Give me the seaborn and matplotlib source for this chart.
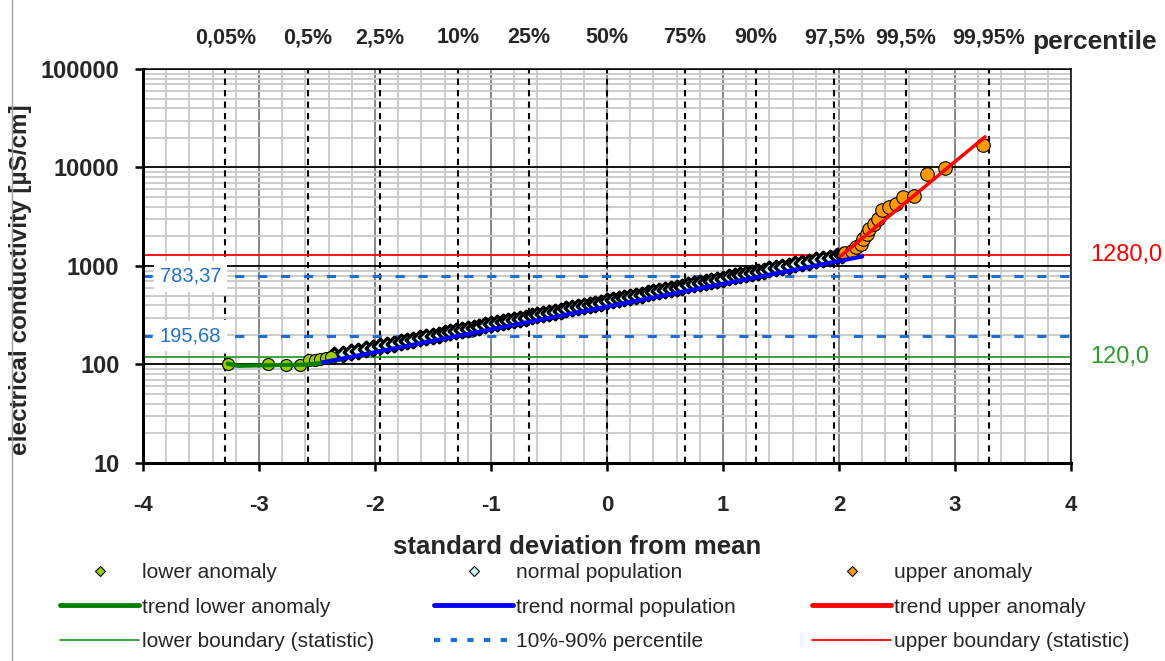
import matplotlib
matplotlib.use('Agg')
import matplotlib.pyplot as plt
import seaborn as sns
import pandas as pd
from matplotlib.lines import Line2D
from matplotlib.ticker import MultipleLocator, LogLocator, NullFormatter

# --- values ---
# normal population: standard deviation from mean / electrical conductivity
normal_z = [-2.35, -2.28, -2.21, -2.15, -2.08, -2.02, -1.96, -1.90, -1.84, -1.78,
            -1.72, -1.67, -1.61, -1.56, -1.50, -1.45, -1.40, -1.35, -1.30, -1.25,
            -1.20, -1.15, -1.10, -1.05, -1.00, -0.95, -0.90, -0.85, -0.80, -0.75,
            -0.70, -0.65, -0.60, -0.55, -0.50, -0.45, -0.40, -0.35, -0.30, -0.25,
            -0.20, -0.15, -0.10, -0.05, 0.00, 0.05, 0.10, 0.15, 0.20, 0.25,
            0.30, 0.35, 0.40, 0.45, 0.50, 0.55, 0.60, 0.65, 0.70, 0.75,
            0.80, 0.85, 0.90, 0.95, 1.00, 1.05, 1.10, 1.15, 1.20, 1.25,
            1.30, 1.35, 1.40, 1.46, 1.51, 1.57, 1.62, 1.68, 1.74, 1.80,
            1.86, 1.92, 1.98, 2.03]
normal_ec = [124, 129, 134, 138, 144, 148, 153, 158, 163, 169,
             174, 179, 185, 190, 196, 201, 207, 212, 218, 224,
             230, 236, 243, 249, 256, 263, 270, 277, 285, 292,
             300, 308, 317, 325, 334, 343, 353, 362, 372, 382,
             392, 403, 414, 425, 437, 448, 460, 473, 486, 499,
             512, 526, 540, 555, 570, 586, 601, 618, 634, 652,
             669, 688, 706, 725, 745, 765, 786, 807, 829, 851,
             874, 898, 922, 952, 978, 1010, 1037, 1071, 1106, 1142,
             1179, 1217, 1257, 1291]

lower_z = [-3.27, -2.92, -2.77, -2.65, -2.57, -2.52, -2.47, -2.42, -2.38]
lower_ec = [102, 102, 99, 99, 110, 112, 114, 116, 118]

upper_z = [2.05, 2.11, 2.15, 2.19, 2.21, 2.24, 2.26, 2.30, 2.34, 2.37,
           2.43, 2.49, 2.55, 2.65, 2.76, 2.91, 3.24]
upper_ec = [1350, 1430, 1550, 1680, 1880, 2120, 2380, 2670, 3010, 3730,
            3950, 4270, 5050, 5150, 8590, 9860, 16980]

# trend lines
trend_lower_z = [-3.27, -3.18, -2.56, -2.28]
trend_lower_ec = [102, 97, 100, 113]
trend_normal_z = [-2.45, 2.20]
trend_normal_ec = [105, 1250]
trend_upper_z = [2.01, 3.26]
trend_upper_ec = [1250, 20500]

# boundaries / percentiles
upper_boundary = 1280.0
lower_boundary = 120.0
p10 = 195.68
p90 = 783.37

pct_z = [-3.29, -2.576, -1.96, -1.2816, -0.674, 0.0, 0.674, 1.2816, 1.96, 2.576, 3.29]
pct_labels = ["0,05%", "0,5%", "2,5%", "10%", "25%", "50%", "75%", "90%",
              "97,5%", "99,5%", "99,95%"]

# --- style ---
sns.set_theme(style="white")
plt.rcParams['font.family'] = ['Liberation Sans', 'DejaVu Sans']

c_lower = '#99cc00'
c_normal = '#ccffff'
c_upper = '#ff9900'
c_green_trend = '#008000'
c_green = '#2e9b2e'
c_blue = '#0000ff'
c_pct = '#1f6fd1'
c_red = '#ff0000'

fig = plt.figure(figsize=(11.65, 6.61), dpi=100)
ax = fig.add_axes([143 / 1165, 1 - 463 / 661, 928 / 1165, 394 / 661])

ax.set_yscale('log')
ax.set_xlim(-4, 4)
ax.set_ylim(10, 100000)

# grid
ax.set_axisbelow(True)
ax.xaxis.set_major_locator(MultipleLocator(1))
ax.xaxis.set_minor_locator(MultipleLocator(0.2))
ax.yaxis.set_major_locator(LogLocator(base=10))
ax.yaxis.set_minor_locator(LogLocator(base=10, subs=range(2, 10)))
ax.yaxis.set_minor_formatter(NullFormatter())
ax.xaxis.grid(True, which='minor', color='#c8c8c8', lw=1.3)
ax.yaxis.grid(True, which='minor', color='#c8c8c8', lw=1.3)
ax.xaxis.grid(True, which='major', color='#7f7f7f', lw=1.3)
ax.yaxis.grid(True, which='major', color='black', lw=1.3)

# percentile verticals
for z in pct_z:
    ax.axvline(z, color='black', lw=1.5, ls=(0, (3, 2.5)), zorder=1.5)

# boundaries
ax.axhline(upper_boundary, color=c_red, lw=1.3, zorder=2)
ax.axhline(lower_boundary, color=c_green, lw=1.3, zorder=2)
for p in (p90, p10):
    ax.axhline(p, color=c_pct, lw=2.2, ls=(0, (3, 4.5)), zorder=2)

# points
sns.scatterplot(x=normal_z, y=normal_ec, ax=ax, marker='D', s=55, color=c_normal,
                edgecolor='black', linewidth=2.4, zorder=3)
sns.scatterplot(x=lower_z, y=lower_ec, ax=ax, marker='o', s=75, color=c_lower,
                edgecolor='black', linewidth=0.8, zorder=3)
sns.scatterplot(x=upper_z, y=upper_ec, ax=ax, marker='o', s=95, color=c_upper,
                edgecolor='black', linewidth=0.8, zorder=3)

# trends
sns.lineplot(x=trend_lower_z, y=trend_lower_ec, ax=ax, color=c_green_trend, lw=3, sort=False, zorder=4)
sns.lineplot(x=trend_normal_z, y=trend_normal_ec, ax=ax, color=c_blue, lw=3, sort=False, zorder=4)
sns.lineplot(x=trend_upper_z, y=trend_upper_ec, ax=ax, color=c_red, lw=2.5, sort=False, zorder=4)

# axes look
for side in ('left', 'bottom'):
    ax.spines[side].set_linewidth(2.2)
for side in ('top', 'right'):
    ax.spines[side].set_linewidth(1.1)
for sp in ax.spines.values():
    sp.set_color('black')
    sp.set_zorder(5)

ax.set_xticks([-4, -3, -2, -1, 0, 1, 2, 3, 4])
ax.set_xticklabels(['-4', '-3', '-2', '-1', '0', '1', '2', '3', '4'])
ax.set_yticks([10, 100, 1000, 10000, 100000])
ax.set_yticklabels(['10', '100', '1000', '10000', '100000'])
ax.tick_params(axis='both', which='major', direction='out', length=6, width=1.8,
               color='black', labelsize=17, bottom=True, left=True)
ax.tick_params(axis='x', which='major', pad=17, labelsize=16)
ax.tick_params(axis='y', which='major', pad=11)
ax.tick_params(which='minor', length=0)
for lab in ax.get_xticklabels() + ax.get_yticklabels():
    lab.set_fontweight('bold')

ax.set_xlabel('standard deviation from mean', fontsize=18.5, fontweight='bold')
ax.xaxis.set_label_coords((577 - 143) / 928, -(535 - 463) / 394)
ax.set_ylabel('electrical conductivity [µS/cm]', fontsize=17.5, fontweight='bold')
ax.yaxis.set_label_coords((32 - 143) / 928, (463 - 280) / 394)

# percentile labels on top
sec = ax.secondary_xaxis('top')
sec.set_xticks(pct_z)
sec.set_xticklabels(pct_labels, fontsize=15.5, fontweight='bold')
sec.tick_params(length=0, pad=15)
sec.spines['top'].set_visible(False)
fig.text(1032 / 1165, 1 - 42 / 661, 'percentile', fontsize=19, fontweight='bold',
         ha='left', va='center')

# value labels
box = dict(boxstyle='square,pad=0.3', facecolor='white', edgecolor='none')
ax.text(0.018, p90, '783,37', color=c_pct, fontsize=14.5, va='center', ha='left',
        transform=ax.get_yaxis_transform(), bbox=box, zorder=6)
ax.text(0.018, p10, '195,68', color=c_pct, fontsize=14.5, va='center', ha='left',
        transform=ax.get_yaxis_transform(), bbox=box, zorder=6)
ax.text(1.0205, upper_boundary, '1280,0', color=c_red, fontsize=17, va='center', ha='left',
        transform=ax.get_yaxis_transform(), clip_on=False)
ax.text(1.0205, lower_boundary, '120,0', color=c_green, fontsize=17, va='center', ha='left',
        transform=ax.get_yaxis_transform(), clip_on=False)

# legend in three columns
def mk(color):
    return Line2D([], [], ls='none', marker='D', markersize=5.5,
                  markerfacecolor=color, markeredgecolor='black', markeredgewidth=0.8)

columns = [
    ([mk(c_lower), Line2D([], [], color=c_green_trend, lw=3.5), Line2D([], [], color=c_green, lw=1.3)],
     ['lower anomaly', 'trend lower anomaly', 'lower boundary (statistic)'], 60),
    ([mk(c_normal), Line2D([], [], color=c_blue, lw=3.5), Line2D([], [], color=c_pct, lw=3, ls=(0, (1.5, 2.5)))],
     ['normal population', 'trend normal population', '10%-90% percentile'], 434),
    ([mk(c_upper), Line2D([], [], color=c_red, lw=3.5), Line2D([], [], color=c_red, lw=1.3)],
     ['upper anomaly', 'trend upper anomaly', 'upper boundary (statistic)'], 812),
]
for handles, labels, xpx in columns:
    fig.legend(handles, labels, loc='upper left', bbox_to_anchor=(xpx / 1165, 1 - 563 / 661),
               frameon=False, fontsize=15, handlelength=3.8, handletextpad=0.12,
               labelspacing=0.75, borderaxespad=0, borderpad=0)

# outer frame line on the left
fig.add_artist(Line2D([12 / 1165, 12 / 1165], [0, 1], transform=fig.transFigure,
                      color='#a0a0a0', lw=1))

fig.savefig('out.png', dpi=100)
